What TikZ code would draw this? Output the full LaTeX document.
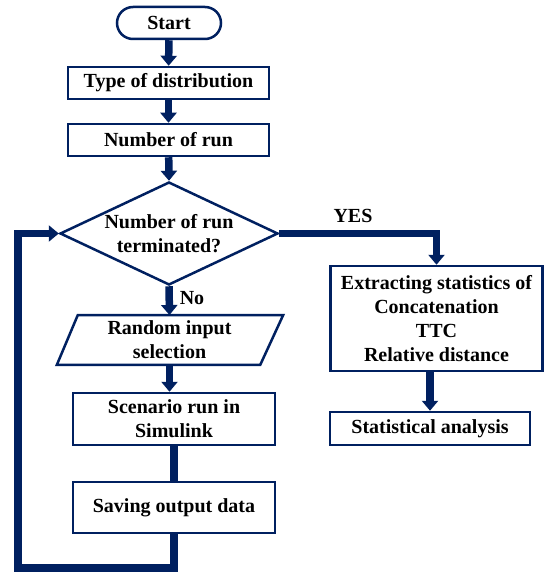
\documentclass[tikz,border=0pt]{standalone}
\usepackage{fontspec}
\setmainfont{Liberation Serif}
\usetikzlibrary{arrows.meta,shapes.geometric,calc}
\definecolor{navy}{HTML}{002060}
\tikzset{
  box/.style={draw=navy, line width=2.5pt, fill=white, inner sep=0pt, align=center,
    font=\fontsize{20}{24}\selectfont\bfseries, text=black},
  lbl/.style={inner sep=0pt, font=\fontsize{20}{24}\selectfont\bfseries, text=black, align=center},
  conn/.style={draw=navy, line width=7.5pt},
  arr/.style={conn, -{Triangle[width=16pt,length=10pt]}},
}
\begin{document}
\begin{tikzpicture}[x=1pt,y=-1pt]
\useasboundingbox (0,0) rectangle (544,575);
\node[box, rounded corners=16pt, minimum width=104pt, minimum height=32pt] (start) at (169,23) {Start};
\node[box, minimum width=201pt, minimum height=32pt] (type) at (168.5,83) {Type of distribution};
\node[box, minimum width=201pt, minimum height=32pt] (num) at (168.5,140) {Number of run};
\node[diamond, draw=navy, line width=2.5pt, fill=white, inner sep=0pt, minimum width=218pt, minimum height=103pt] (dec) at (169,233.5) {};
\node[lbl] (dect) at (dec) {Number of run\\terminated?};
\node[inner sep=0pt, minimum width=203pt, minimum height=49.5pt] (rin) at (169.5,340) {};
\draw[navy, line width=2.5pt, fill=white, line join=miter]
  ($(rin.north west)+(10,0)$) -- ($(rin.north east)+(12,0)$) -- ($(rin.south east)+(-11,0)$) -- ($(rin.south west)+(-11,0)$) -- cycle;
\node[lbl] (rint) at (rin) {Random input\\selection};
\node[box, minimum width=202pt, minimum height=52pt] (scen) at (174,419) {Scenario run in\\Simulink};
\node[box, minimum width=202pt, minimum height=51pt] (save) at (174,507.5) {Saving output data};
\node[box, minimum width=212pt, minimum height=105pt] (ext) at (436.5,318.5) {Extracting statistics of\\Concatenation\\TTC\\Relative distance};
\node[box, minimum width=200pt, minimum height=33pt] (stat) at (430,428.5) {Statistical analysis};
\coordinate (lb) at (18,568);
\draw[arr] (start) -- (type);
\draw[arr] (type) -- (num);
\draw[arr] (num) -- (dec.north);
\draw[arr] (dec.east) -| (ext.north);
\node[lbl] (yes) at (353,216) {YES};
\draw[arr] (dec.south) -- (rin.north);
\node[lbl] (no) at (192,298) {No};
\draw[arr] (rin.south) -- (rin.south |- scen.north);
\draw[conn] (scen.south) -- (save.north);
\draw[arr] (stat.north |- ext.south) -- (stat.north);
\draw[arr] (save.south) |- (lb) |- (dec.west);
\end{tikzpicture}
\end{document}
